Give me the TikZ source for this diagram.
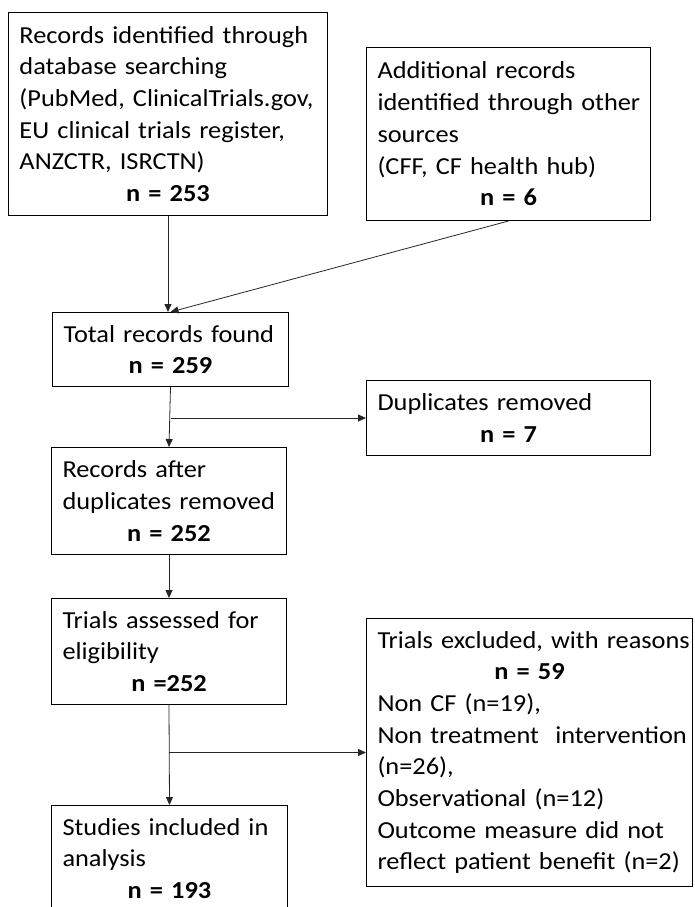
\documentclass[tikz,border=0pt]{standalone}
\usepackage{fontspec}
\setmainfont{Carlito}[FakeStretch=1.08, WordSpace=0.65]
\usetikzlibrary{arrows.meta}
\tikzset{
  box/.style={draw=black, line width=1pt, anchor=north west, inner xsep=11pt, inner ysep=0pt,
    font=\fontsize{24.4}{31.7}\selectfont},
  conn/.style={draw=black!85, line width=0.8pt},
  arr/.style={conn, -{Triangle[length=8pt,width=7pt]}}
}
\newcommand\tl[1]{\mbox{#1}}
\newcommand\nline[1]{\par\centering\textbf{#1}\par}
\begin{document}
\begin{tikzpicture}[x=1pt,y=-1pt]
\useasboundingbox (0,0) rectangle (694,907);
\clip (0,0) rectangle (694,907);
\node[box, minimum width=319pt, minimum height=203pt, text width=297pt] (b1) at (8,12)
  {\raggedright\tl{Records identified through}\\ \tl{database searching}\\ \tl{(PubMed, ClinicalTrials.gov,}\\ \tl{EU clinical trials register,}\\ \tl{ANZCTR, ISRCTN)}\nline{n = 253}};
\node[box, minimum width=284pt, minimum height=173pt, text width=262pt] (b2) at (366,47)
  {\raggedright\tl{Additional records}\\ \tl{identified through other}\\ \tl{sources}\\ \tl{(CFF, CF health hub)}\nline{n = 6}};
\node[box, minimum width=236pt, minimum height=74pt, text width=214pt] (tot) at (52,312)
  {\raggedright\tl{Total records found}\nline{n = 259}};
\node[box, minimum width=284pt, minimum height=75pt, text width=262pt] (dup) at (366,380)
  {\raggedright\tl{Duplicates removed}\nline{n = 7}};
\node[box, minimum width=235pt, minimum height=107pt, text width=213pt] (rec) at (51,447)
  {\raggedright\tl{Records after}\\ \tl{duplicates removed}\nline{n = 252}};
\node[box, minimum width=235pt, minimum height=106pt, text width=213pt] (tri) at (51,598)
  {\raggedright\tl{Trials assessed for}\\ \tl{eligibility}\nline{n =252}};
\node[box, minimum width=326pt, minimum height=268pt, text width=304pt] (exc) at (366,618)
  {\raggedright\tl{Trials excluded, with reasons}\nline{n = 59}\raggedright
   \tl{Non CF (n=19),}\\ \tl{Non treatment~~intervention}\\ \tl{(n=26),}\\ \tl{Observational (n=12)}\\ \tl{Outcome measure did not}\\ \tl{reflect patient benefit (n=2)}\par};
\node[box, minimum width=236pt, minimum height=106pt, text width=214pt] (stu) at (51,805)
  {\raggedright\tl{Studies included in}\\ \tl{analysis}\nline{n = 193}};

\draw[arr] (b1.south) -- (b1.south |- tot.north);
\draw[arr] (b2.south) -- (tot.north);
\draw[arr] (tot.south) -- (rec.north);
\draw[arr] (tot.south |- dup.west) -- (dup.west);
\draw[arr] (rec.south) -- (tri.north);
\draw[arr] (tri.south) -- (stu.north);
\draw[arr] (tri.south |- exc.west) -- (exc.west);
\end{tikzpicture}
\end{document}
